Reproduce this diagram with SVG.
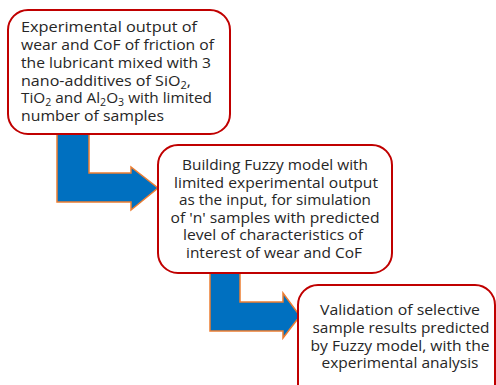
<svg xmlns="http://www.w3.org/2000/svg" width="496" height="385" viewBox="0 0 496 385">
  <style>
    .box { fill: #ffffff; stroke: #c00000; stroke-width: 2; }
    .flow { fill: #0070c0; stroke: #ed7d31; stroke-width: 1.5; stroke-linejoin: miter; }
    .t { font-family: "Open Sans", "Liberation Sans", Arial, sans-serif; font-size: 14.5px; fill: #262626; }
    .c { text-anchor: middle; }
  </style>
  <rect width="496" height="385" fill="#ffffff"/>

  <!-- bent block arrows between the steps -->
  <g id="connectors">
    <polygon class="flow" points="57,128 89,128 89,173 131,173 131,167 158,188 131,210 131,202 57,202"/>
    <polygon class="flow" points="210,266 240,266 240,302 283,302 283,293 300,316 283,338 283,331 210,331"/>
  </g>

  <!-- step 1: experiments -->
  <g id="step1">
    <rect class="box" x="8" y="10" width="222" height="124" rx="20" ry="20"/>
    <text class="t" x="21" y="32" textLength="176" lengthAdjust="spacingAndGlyphs">Experimental output of</text>
    <text class="t" x="21" y="50" textLength="193" lengthAdjust="spacingAndGlyphs">wear and CoF of friction of</text>
    <text class="t" x="21" y="68" textLength="190" lengthAdjust="spacingAndGlyphs">the lubricant mixed with 3</text>
    <text class="t" x="21" y="86" textLength="170" lengthAdjust="spacingAndGlyphs">nano-additives  of SiO<tspan font-size="10" dy="3">2</tspan><tspan dy="-3">,</tspan></text>
    <text class="t" x="21" y="103" textLength="191" lengthAdjust="spacingAndGlyphs">TiO<tspan font-size="10" dy="3">2</tspan><tspan dy="-3"> and Al</tspan><tspan font-size="10" dy="3">2</tspan><tspan dy="-3">O</tspan><tspan font-size="10" dy="3">3</tspan><tspan dy="-3"> with limited</tspan></text>
    <text class="t" x="21" y="121" textLength="143" lengthAdjust="spacingAndGlyphs">number of samples</text>
  </g>

  <!-- step 2: fuzzy model -->
  <g id="step2">
    <rect class="box" x="158" y="145" width="234" height="128" rx="20" ry="20"/>
    <text class="t c" x="275" y="170" textLength="186" lengthAdjust="spacingAndGlyphs">Building Fuzzy model with</text>
    <text class="t c" x="276" y="188" textLength="204" lengthAdjust="spacingAndGlyphs">limited  experimental output</text>
    <text class="t c" x="275" y="205" textLength="192" lengthAdjust="spacingAndGlyphs">as the input, for simulation</text>
    <text class="t c" x="275" y="223" textLength="209" lengthAdjust="spacingAndGlyphs">of 'n' samples with predicted</text>
    <text class="t c" x="273" y="240" textLength="180" lengthAdjust="spacingAndGlyphs">level of characteristics of</text>
    <text class="t c" x="274" y="258" textLength="176" lengthAdjust="spacingAndGlyphs">interest of wear and CoF</text>
  </g>

  <!-- step 3: validation -->
  <g id="step3">
    <rect class="box" x="298" y="285" width="197" height="120" rx="20" ry="20"/>
    <text class="t c" x="400" y="315" textLength="160" lengthAdjust="spacingAndGlyphs">Validation of selective</text>
    <text class="t c" x="401" y="333" textLength="177" lengthAdjust="spacingAndGlyphs">sample results predicted</text>
    <text class="t c" x="400" y="351" textLength="179" lengthAdjust="spacingAndGlyphs">by Fuzzy model, with the</text>
    <text class="t c" x="400" y="368" textLength="157" lengthAdjust="spacingAndGlyphs">experimental analysis</text>
  </g>
</svg>
